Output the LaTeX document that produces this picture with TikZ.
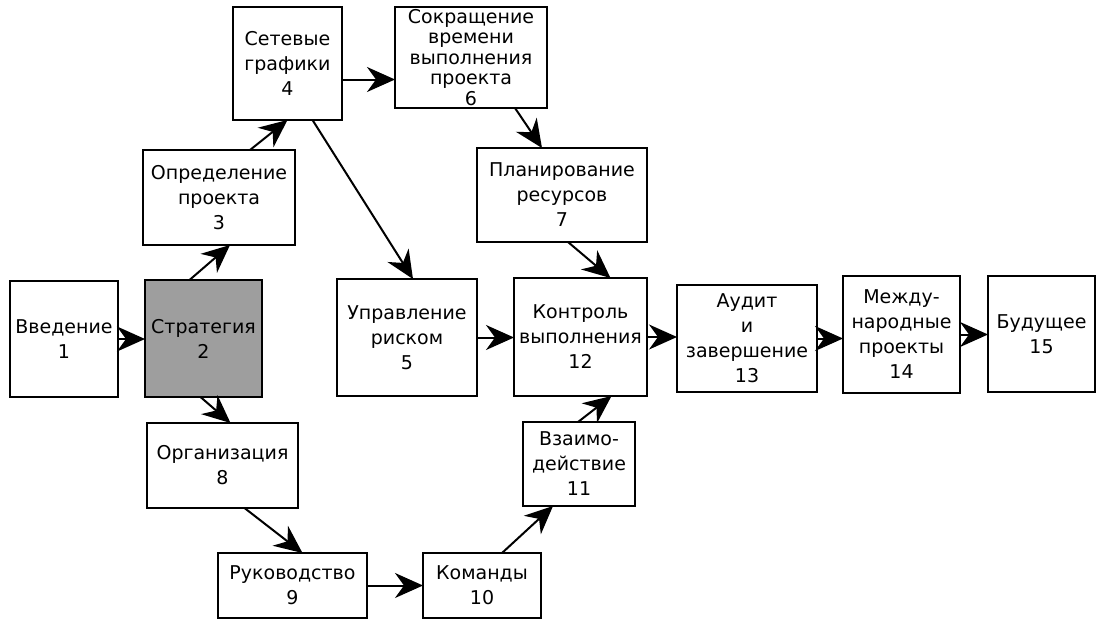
\documentclass[tikz,border=0pt]{standalone}
\usepackage{fontspec}
\setmainfont{DejaVu Sans}
\usetikzlibrary{arrows.meta}
\begin{document}
\begin{tikzpicture}[x=1pt,y=-1pt,
  box/.style={draw, line width=2pt, inner sep=0pt, outer sep=0pt, align=center,
    font=\fontsize{19}{25}\selectfont},
  tight/.style={font=\fontsize{19}{20.5}\selectfont},
  shade/.style={fill=black!38},
  arr/.style={line width=2pt, -{Stealth[length=28pt,width=25pt,inset=9pt]}}]
\useasboundingbox (0,0) rectangle (1103,635);
% nodes
\node[box, minimum width=108pt, minimum height=116pt] (b1) at (64,339) {Введение\\1};
\node[box, shade, minimum width=117pt, minimum height=117pt] (b2) at (203.5,338.5) {Стратегия\\2};
\node[box, minimum width=152pt, minimum height=95pt] (b3) at (219,197.5) {Определение\\проекта\\3};
\node[box, minimum width=109pt, minimum height=113pt] (b4) at (287.5,63.5) {Сетевые\\графики\\4};
\node[box, tight, minimum width=152pt, minimum height=101pt] (b6) at (471,57.5) {Сокращение\\времени\\выполнения\\проекта\\6};
\node[box, minimum width=170pt, minimum height=94pt] (b7) at (562,195) {Планирование\\ресурсов\\7};
\node[box, minimum width=140pt, minimum height=117pt] (b5) at (407,337.5) {Управление\\риском\\5};
\node[box, minimum width=133pt, minimum height=118pt] (b12) at (580.5,337) {Контроль\\выполнения\\12};
\node[box, minimum width=140pt, minimum height=107pt] (b13) at (747,338.5) {Аудит\\и\\завершение\\13};
\node[box, minimum width=117pt, minimum height=117pt] (b14) at (901.5,334.5) {Между-\\народные\\проекты\\14};
\node[box, minimum width=107pt, minimum height=116pt] (b15) at (1041.5,334) {Будущее\\15};
\node[box, minimum width=151pt, minimum height=85pt] (b8) at (222.5,465.5) {Организация\\8};
\node[box, minimum width=149pt, minimum height=65pt] (b9) at (292.5,585.5) {Руководство\\9};
\node[box, minimum width=118pt, minimum height=65pt] (b10) at (482,585.5) {Команды\\10};
\node[box, minimum width=112pt, minimum height=84pt] (b11) at (579,464) {Взаимо-\\действие\\11};
% connectors
\draw[arr] (b1.east) -- (b1.east -| b2.west);
\draw[arr] ([xshift=-14pt]b2.north) -- ([xshift=11pt]b3.south);
\draw[arr] ([xshift=31pt]b3.north) -- (b4.south);
\draw[arr] ([yshift=-16pt]b4.east) -- ([yshift=-22pt]b6.west);
\draw[arr] ([xshift=25pt]b4.south) -- ([xshift=6pt]b5.north);
\draw[arr] ([xshift=44pt]b6.south) -- ([xshift=-20pt]b7.north);
\draw[arr] ([xshift=6pt]b7.south) -- ([xshift=30pt]b12.north);
\draw[arr] (b5.east) -- (b5.east -| b12.west);
\draw[arr] (b12.east) -- (b12.east -| b13.west);
\draw[arr] (b13.east) -- (b13.east -| b14.west);
\draw[arr] (b14.east) -- (b14.east -| b15.west);
\draw[arr] ([xshift=-3pt]b2.south) -- ([xshift=8pt]b8.north);
\draw[arr] ([xshift=22pt]b8.south) -- ([xshift=10pt]b9.north);
\draw[arr] (b9.east) -- (b9.east -| b10.west);
\draw[arr] ([xshift=20pt]b10.north) -- ([xshift=-26pt]b11.south);
\draw[arr] ([xshift=-1pt]b11.north) -- ([xshift=31pt]b12.south);
\end{tikzpicture}
\end{document}
